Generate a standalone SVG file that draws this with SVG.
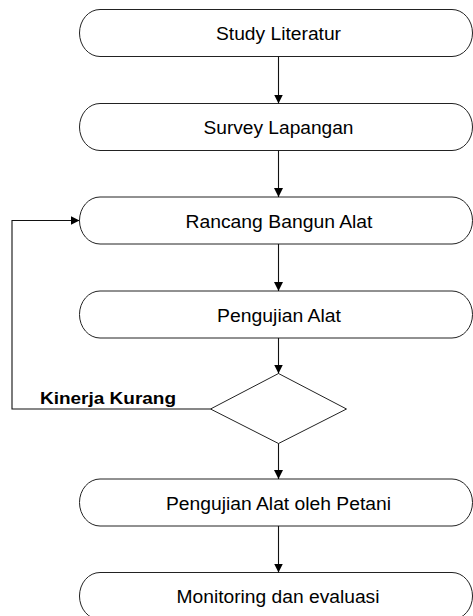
<svg xmlns="http://www.w3.org/2000/svg" width="473" height="616" viewBox="0 0 473 616">
  <style>
    .node path, .node polygon { fill: #fff; stroke: #222; stroke-width: 1; }
    .node text { font-family: "Liberation Sans", Arial, sans-serif; font-size: 17.5px; fill: #000; text-anchor: middle; }
    .conn path { fill: none; stroke: #111; stroke-width: 1.1; }
    .lbl { font-family: "Liberation Sans", Arial, sans-serif; font-size: 16px; font-weight: bold; fill: #000; }
  </style>
  <defs>
    <marker id="arr" viewBox="0 0 10 10" refX="10" refY="5" markerWidth="9" markerHeight="10.5" markerUnits="userSpaceOnUse" orient="auto">
      <path d="M0,0 L10,5 L0,10 Z" fill="#000"/>
    </marker>
  </defs>
  <rect width="473" height="616" fill="#fff"/>

  <g id="n1" class="node">
    <path d="M100,9.5 H452 A20.5,23.5 0 0 1 452,56.5 H100 A20.5,23.5 0 0 1 100,9.5 Z"/>
    <text x="278.5" y="40" textLength="125" lengthAdjust="spacingAndGlyphs">Study Literatur</text>
  </g>
  <g id="n2" class="node">
    <path d="M100,103.5 H452 A20.5,23.5 0 0 1 452,150.5 H100 A20.5,23.5 0 0 1 100,103.5 Z"/>
    <text x="278.5" y="134" textLength="150" lengthAdjust="spacingAndGlyphs">Survey Lapangan</text>
  </g>
  <g id="n3" class="node">
    <path d="M100,197 H452 A20.5,23.5 0 0 1 452,244 H100 A20.5,23.5 0 0 1 100,197 Z"/>
    <text x="279" y="227.5" textLength="187" lengthAdjust="spacingAndGlyphs">Rancang Bangun Alat</text>
  </g>
  <g id="n4" class="node">
    <path d="M100,291 H452 A20.5,23.5 0 0 1 452,338 H100 A20.5,23.5 0 0 1 100,291 Z"/>
    <text x="279" y="321.5" textLength="124" lengthAdjust="spacingAndGlyphs">Pengujian Alat</text>
  </g>
  <g id="d1" class="node">
    <polygon points="278.5,373.5 346.5,409 278.5,443.5 210.5,409"/>
  </g>
  <g id="n5" class="node">
    <path d="M100,479 H452 A20.5,23.5 0 0 1 452,526 H100 A20.5,23.5 0 0 1 100,479 Z"/>
    <text x="278.5" y="509.5" textLength="225" lengthAdjust="spacingAndGlyphs">Pengujian Alat oleh Petani</text>
  </g>
  <g id="n6" class="node">
    <path d="M100,572.5 H452 A20.5,23.5 0 0 1 452,619.5 H100 A20.5,23.5 0 0 1 100,572.5 Z"/>
    <text x="278" y="603" textLength="203" lengthAdjust="spacingAndGlyphs">Monitoring dan evaluasi</text>
  </g>

  <g id="connectors" class="conn">
    <path d="M278.5,56.5 V103.5" marker-end="url(#arr)"/>
    <path d="M278.5,150.5 V197" marker-end="url(#arr)"/>
    <path d="M278.5,244 V291" marker-end="url(#arr)"/>
    <path d="M278.5,338 V373.5" marker-end="url(#arr)"/>
    <path d="M278.5,443.5 V479" marker-end="url(#arr)"/>
    <path d="M278.5,526 V572.5" marker-end="url(#arr)"/>
    <path d="M210.5,409 H12 V220.5 H79.5" marker-end="url(#arr)"/>
  </g>
  <text class="lbl" x="40" y="404" textLength="136" lengthAdjust="spacingAndGlyphs">Kinerja Kurang</text>
</svg>
